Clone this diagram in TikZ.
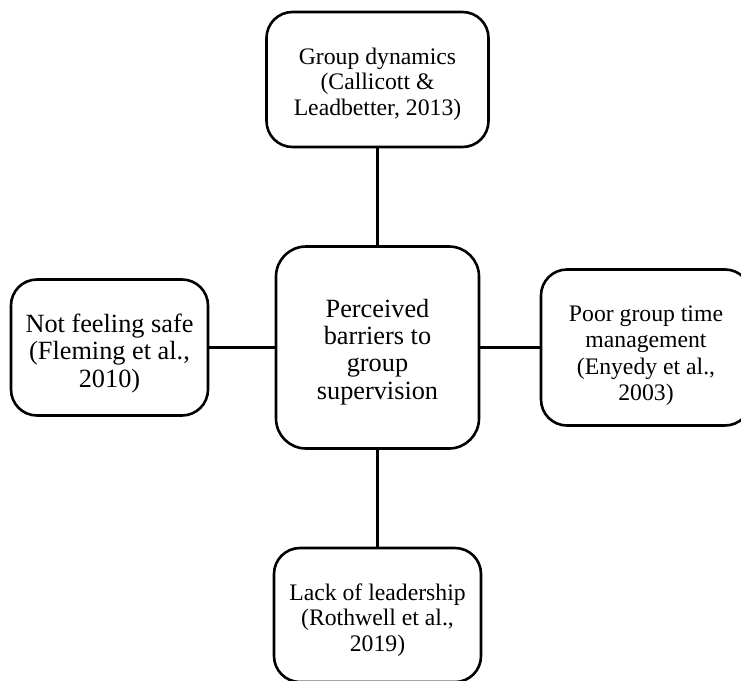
\documentclass[tikz,border=0pt]{standalone}
\usepackage{fontspec}
\setmainfont{Liberation Serif}
\begin{document}
\begin{tikzpicture}[x=1pt,y=-1pt,
  box/.style={draw=black, line width=2.6pt, rounded corners=26pt, inner sep=0pt, fill=white},
  label/.style={align=center, inner sep=0pt},
  smalltxt/.style={font=\fontsize{23.7}{25.5}\selectfont},
  bigtxt/.style={font=\fontsize{26.3}{27.3}\selectfont},
  link/.style={line width=2.6pt}]
\useasboundingbox (0,0) rectangle (741,680);
\node[box, rounded corners=30pt, minimum width=203pt, minimum height=202pt] (c) at (377.5,347.5) {};
\node[box, minimum width=222pt, minimum height=135pt] (t) at (377.5,79.5) {};
\node[box, minimum width=197pt, minimum height=136pt] (l) at (109.5,347.5) {};
\node[box, minimum width=210pt, minimum height=156pt] (r) at (646,347.5) {};
\node[box, minimum width=207pt, minimum height=134pt] (b) at (377.5,615) {};
\node[label, bigtxt] (ct) at ([yshift=-4.5pt]c.center) {Perceived\\barriers to\\group\\supervision};
\node[label, smalltxt] (tt) at ([yshift=-4.5pt]t.center) {Group dynamics\\(Callicott \&\\Leadbetter, 2013)};
\node[label, bigtxt] (lt) at ([yshift=-6pt]l.center) {Not feeling safe\\(Fleming et al.,\\2010)};
\node[label, smalltxt, font=\fontsize{23.7}{26.5}\selectfont] (rt) at ([yshift=-8pt]r.center) {Poor group time\\management\\(Enyedy et al.,\\2003)};
\node[label, smalltxt] (bt) at ([yshift=-5pt]b.center) {Lack of leadership\\(Rothwell et al.,\\2019)};
\draw[link] (t.south) -- (c.north);
\draw[link] (c.south) -- (b.north);
\draw[link] (l.east) -- (c.west);
\draw[link] (c.east) -- (r.west);
\end{tikzpicture}
\end{document}
